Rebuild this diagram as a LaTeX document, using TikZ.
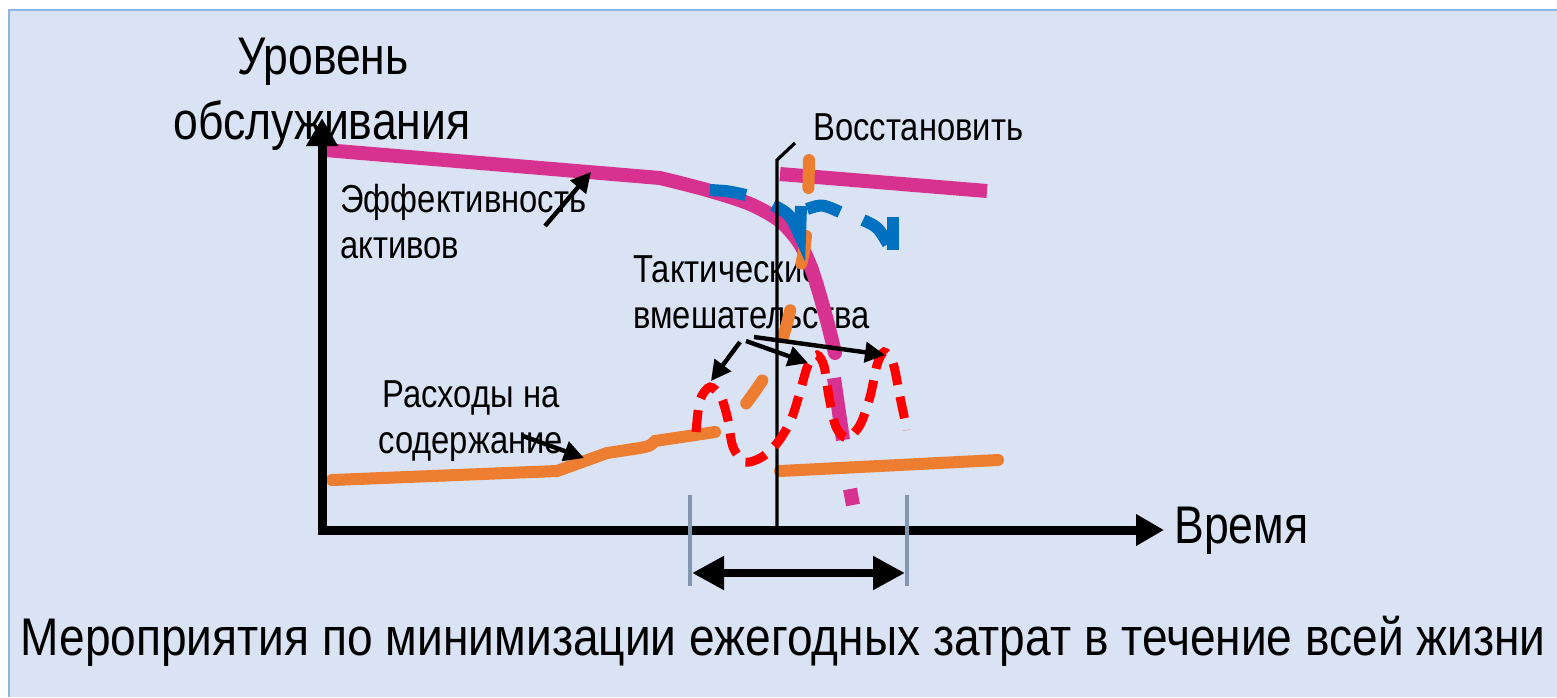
\documentclass[tikz,border=0pt]{standalone}
\usepackage{fontspec}
\setmainfont{Liberation Sans}[FakeStretch=0.84]
\newfontfamily\titlefont{Liberation Sans}[FakeStretch=0.87]
\usetikzlibrary{arrows.meta}
\definecolor{bgblue}{HTML}{DAE3F3}
\definecolor{bdblue}{HTML}{8EB4E3}
\definecolor{mpink}{HTML}{D83290}
\definecolor{morange}{HTML}{ED7D31}
\definecolor{mblue}{HTML}{0070C0}
\definecolor{mred}{HTML}{FF0000}
\definecolor{mgray}{HTML}{8497B0}
\tikzset{
  bigtxt/.style={inner sep=0pt, font=\fontsize{26.5}{30}\selectfont},
  smalltxt/.style={inner sep=0pt, font=\fontsize{19.5}{23}\selectfont},
  axisline/.style={line width=4.5pt, -{Triangle[length=14pt,width=15pt]}},
  ptr/.style={line width=2.2pt, -{Triangle[length=10pt,width=10pt]}},
  pinkline/.style={mpink, line width=7pt},
  orangeline/.style={morange, line width=6pt, line cap=round},
  bluedash/.style={mblue, line width=6pt},
  reddash/.style={mred, line width=4.5pt, dash pattern=on 11pt off 6pt},
  ticks/.style={mgray, line width=1.8pt},
}
\begin{document}
\begin{tikzpicture}[x=0.5pt,y=-0.5pt]
\useasboundingbox (0,0) rectangle (1557,697);
\fill[white] (0,0) rectangle (1557,697);
\fill[bgblue] (9,10) rectangle (1557,697);
\draw[bdblue, line width=1.2pt] (9,697) -- (9,10) -- (1557,10);

% texts
\node[bigtxt, anchor=base] (ylab1) at (323,74) {Уровень};
\node[bigtxt, anchor=base] (ylab2) at (322,139) {обслуживания};
\node[bigtxt, anchor=base west] (xlab) at (1174,543) {Время};
\node[bigtxt, anchor=base, font=\fontsize{26.5}{30}\titlefont] (title) at (783,655) {Мероприятия по минимизации ежегодных затрат в течение всей жизни};
\node[smalltxt, anchor=base west] (eff1) at (340,212) {Эффективность};
\node[smalltxt, anchor=base west] (eff2) at (340,258) {активов};
\node[smalltxt, anchor=base west] (tac1) at (633,282) {Тактические};
\node[smalltxt, anchor=base west] (tac2) at (633,328) {вмешательства};
\node[smalltxt, anchor=base west] (cost1) at (382,407) {Расходы на};
\node[smalltxt, anchor=base west] (cost2) at (378,453) {содержание};
\node[smalltxt, anchor=base west] (rest) at (813,140) {Восстановить};

% pink performance
\draw[pinkline, line cap=round] (325,150) -- plot[smooth] coordinates {(660,178) (707,190) (750,204) (780,221) (800,244) (813,273) (826,317) (835,353)};
\draw[pinkline] (834,378) -- (843,440);
\draw[pinkline] (850,489) -- (853,505);
\draw[pinkline] (780,174) -- (987,191);

% orange cost
\draw[orangeline] (332,480) -- (557,471) -- (607,453) -- (640,448) .. controls (650,446) .. (655,441) -- (715,432);
\draw[orangeline] (780,471) -- (998,460);
\draw[orangeline, dash pattern=on 14pt off 24pt] plot[smooth] coordinates {(809,160) (808,200) (805,245) (795,290) (783,337) (765,376) (745,405)};

% blue dashed
\draw[bluedash] (710,190) .. controls (728,191) .. (746,195);
\draw[bluedash] (773,205) .. controls (790,214) .. (800,236) -- (801,206);
\draw[bluedash] (807,209) .. controls (822,204) .. (840,212);
\draw[bluedash] (863,220) .. controls (878,227) .. (888,244);
\draw[bluedash] (893,217) -- (893,250);

% restore line
\coordinate (rtop) at (795,143);
\coordinate (rmid) at (777,160);
\coordinate (rbot) at (777,528);
\draw[line width=1.6pt] (rtop) -- (rmid) -- (rbot);

% red dashed interventions
\draw[reddash] plot[smooth] coordinates {(696,432) (700,400) (710,387) (721,397) (728,420) (733,447) (745,462) (762,457) (778,442) (791,420) (800,392) (808,365) (817,355) (824,366) (829,397) (836,427) (847,438) (860,425) (870,397) (877,365) (884,352) (893,363) (900,397) (907,430)};

% axes
\coordinate (ytip) at (322,118);
\coordinate (xtip) at (1164,530);
\draw[axisline] (322,535) -- (ytip);
\draw[axisline] (318,530) -- (xtip);

% pointer arrows
\coordinate (p1s) at (545,226); \coordinate (p1e) at (591,172);
\draw[ptr] (p1s) -- (p1e);
\coordinate (p2s) at (523,436); \coordinate (p2e) at (584,458);
\draw[ptr] (p2s) -- (p2e);
\coordinate (a1s) at (740,342); \coordinate (a1e) at (711,381);
\coordinate (a2s) at (746,341); \coordinate (a2e) at (808,363);
\coordinate (a3s) at (754,337); \coordinate (a3e) at (885,355);
\draw[ptr] (a1s) -- (a1e);
\draw[ptr] (a2s) -- (a2e);
\draw[ptr] (a3s) -- (a3e);

% interval
\coordinate (t1a) at (690,495); \coordinate (t1b) at (690,586);
\coordinate (t2a) at (907,495); \coordinate (t2b) at (907,586);
\draw[ticks] (t1a) -- (t1b);
\draw[ticks] (t2a) -- (t2b);
\draw[line width=4pt, {Triangle[length=16pt,width=16pt]}-{Triangle[length=16pt,width=16pt]}] (692,573) -- (905,573);
\end{tikzpicture}
\end{document}
